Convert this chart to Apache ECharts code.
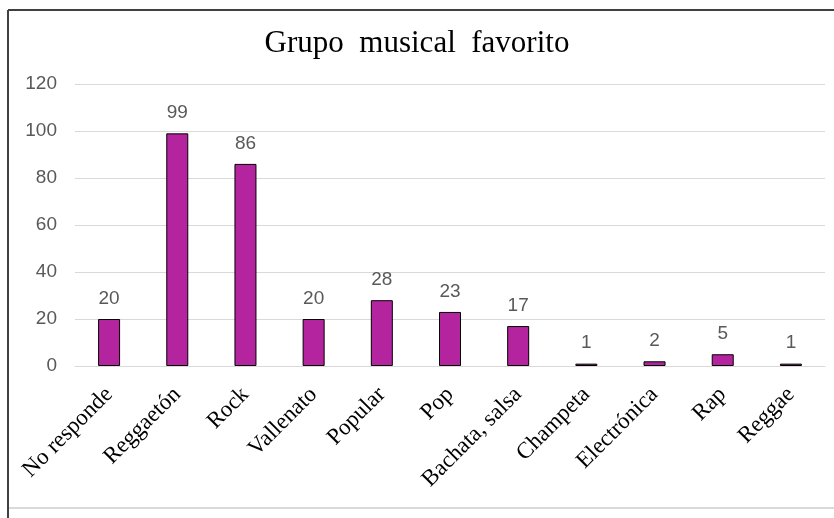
<!DOCTYPE html>
<html>
<head>
<meta charset="utf-8">
<script src="https://cdn.jsdelivr.net/npm/echarts@6/dist/echarts.min.js"></script>
<style>html,body{margin:0;padding:0;background:#fff;}#c{width:834px;height:518px;}</style>
</head>
<body>
<div id="c"></div>
<script>
var titleText = 'Grupo  musical  favorito';
var categories = ['No responde', 'Reggaetón', 'Rock', 'Vallenato', 'Popular', 'Pop', 'Bachata, salsa', 'Champeta', 'Electrónica', 'Rap', 'Reggae'];
var values = [20, 99, 86, 20, 28, 23, 17, 1, 2, 5, 1];
var yTicks = [0, 20, 40, 60, 80, 100, 120];

var chart = echarts.init(document.getElementById('c'), null, {renderer: 'canvas'});
chart.setOption({
  animation: false,
  backgroundColor: '#ffffff',
  title: {
    text: titleText,
    left: 'center',
    top: 23,
    textStyle: {fontFamily: 'Liberation Serif', fontSize: 31, fontWeight: 'normal', color: '#000000'}
  },
  grid: {left: 75, right: 9, top: 84, bottom: 152, containLabel: false},
  xAxis: {
    type: 'category',
    data: categories,
    axisLine: {show: true, lineStyle: {color: '#d9d9d9', width: 1}},
    axisTick: {show: false},
    axisLabel: {
      interval: 0,
      rotate: 45,
      margin: 25,
      fontFamily: 'Liberation Serif',
      fontSize: 23,
      color: '#000000'
    }
  },
  yAxis: {
    type: 'value',
    min: yTicks[0],
    max: yTicks[yTicks.length - 1],
    interval: 20,
    axisLine: {show: false},
    axisTick: {show: false},
    splitLine: {lineStyle: {color: '#d9d9d9', width: 1}},
    axisLabel: {margin: 18, fontFamily: 'Liberation Sans', fontSize: 19, color: '#595959'}
  },
  series: [{
    type: 'bar',
    data: values,
    barWidth: 22,
    itemStyle: {color: '#b5249f', borderColor: '#000000', borderWidth: 1},
    label: {
      show: true,
      position: 'top',
      distance: 11,
      fontFamily: 'Liberation Sans',
      fontSize: 19,
      color: '#595959'
    }
  }],
  graphic: [
    {type: 'line', shape: {x1: 8, y1: 10, x2: 834, y2: 10}, style: {stroke: '#404040', lineWidth: 2}},
    {type: 'line', shape: {x1: 8, y1: 10, x2: 8, y2: 518}, style: {stroke: '#404040', lineWidth: 2}},
    {type: 'line', shape: {x1: 9, y1: 508, x2: 834, y2: 508}, style: {stroke: '#d9d9d9', lineWidth: 2}}
  ]
});
</script>
</body>
</html>
